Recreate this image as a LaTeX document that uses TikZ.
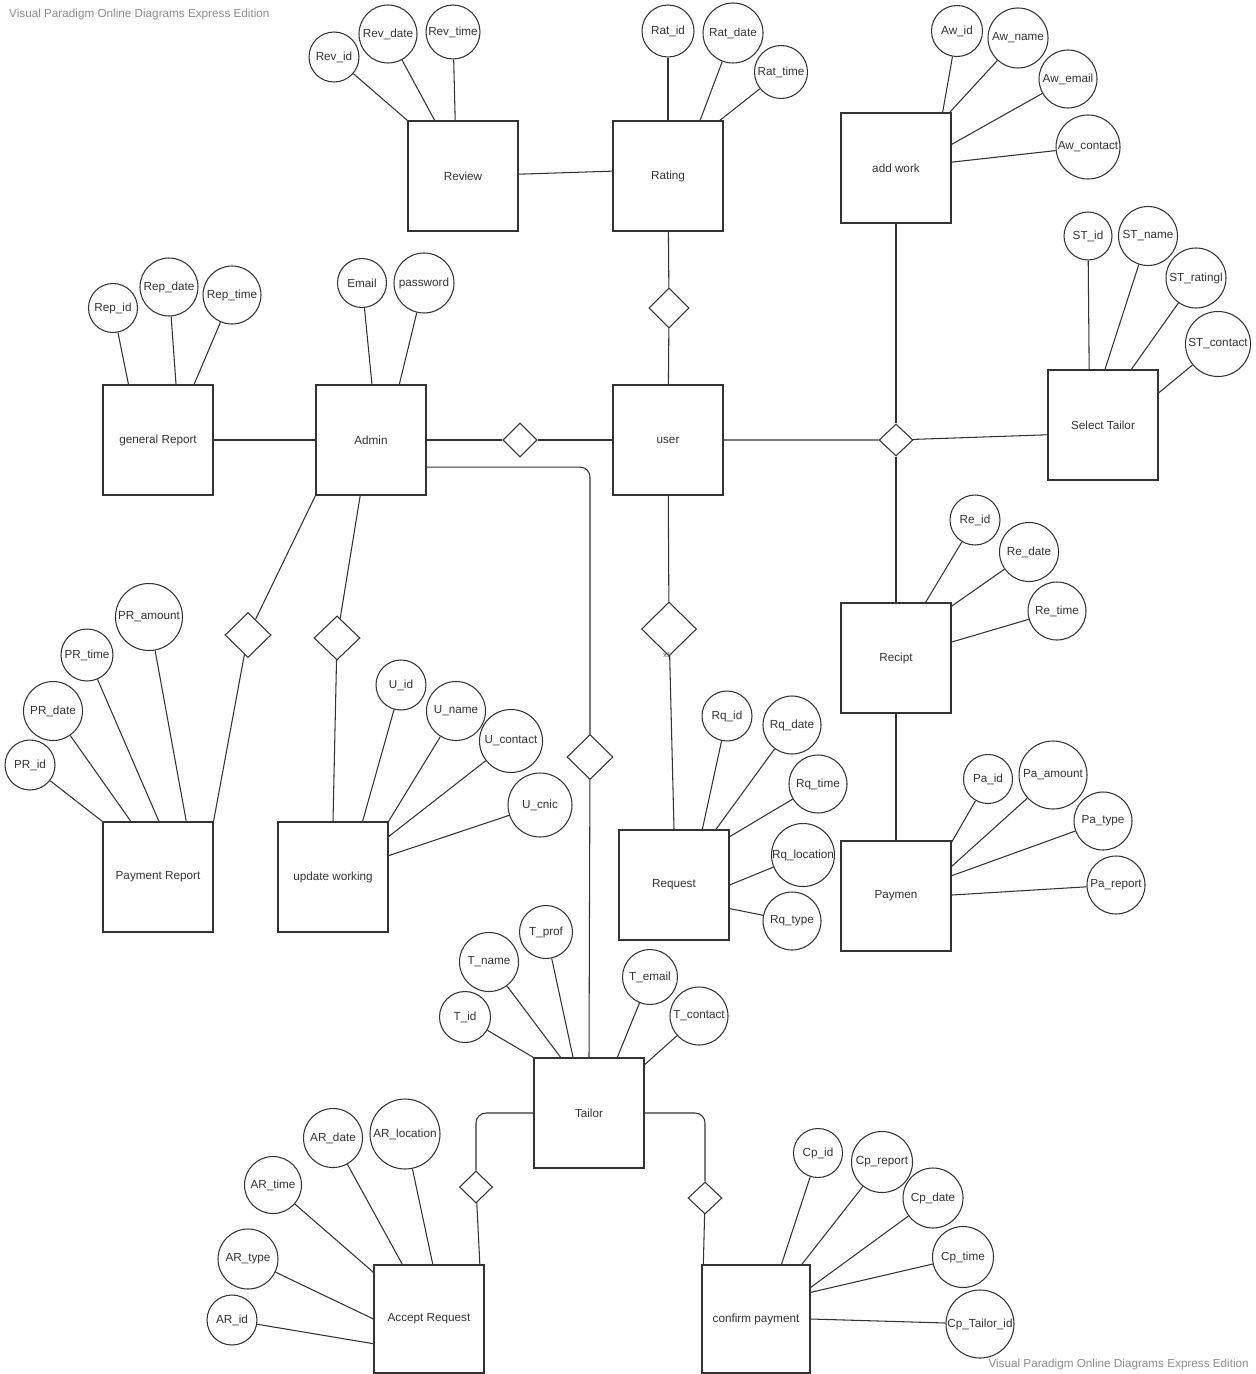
\documentclass[tikz,border=0pt]{standalone}
\usepackage{fontspec}
\setmainfont{Liberation Sans}
\usetikzlibrary{shapes.geometric}
\tikzset{
entity/.style={draw=black!80,line width=0.9pt,minimum width=33mm,minimum height=33mm,inner sep=0pt,font=\fontsize{10}{12}\selectfont,text=black!80},
attrib/.style={circle,draw=black!80,line width=0.9pt,inner sep=0pt,font=\fontsize{10}{12}\selectfont,text=black!80},
rel/.style={diamond,draw=black!80,line width=0.9pt,inner sep=0pt,minimum width=10.2mm,minimum height=10.2mm},
link/.style={black!80,line width=0.9pt},
elbow/.style={link,rounded corners=3mm},
mult/.style={font=\fontsize{6}{7}\selectfont,text=black!70,inner sep=0pt},
watermark/.style={font=\fontsize{10}{12}\selectfont,text=black!45,inner sep=0pt}
}
\begin{document}
\begin{tikzpicture}[x=0.3mm,y=-0.3mm]
\path[use as bounding box,fill=white] (0,0) rectangle (1255,1374);
\node[watermark,anchor=west] (wmtop) at (9,14) {Visual Paradigm Online Diagrams Express Edition};
\node[watermark,anchor=east] (wmbot) at (1249,1364) {Visual Paradigm Online Diagrams Express Edition};

\node[entity] (review) at (463,176) {Review};
\node[entity] (rating) at (668,176) {Rating};
\node[entity] (addwork) at (896,168) {add work};
\node[entity] (genrep) at (158,440) {general Report};
\node[entity] (admin) at (371,440) {Admin};
\node[entity] (user) at (668,440) {user};
\node[entity] (seltailor) at (1103,425) {Select Tailor};
\node[entity] (recipt) at (896,658) {Recipt};
\node[entity] (payrep) at (158,877) {Payment Report};
\node[entity] (updwork) at (333,877) {update working};
\node[entity] (request) at (674,885) {Request};
\node[entity] (paymen) at (896,896) {Paymen};
\node[entity] (tailor) at (589,1113) {Tailor};
\node[entity,minimum height=32.4mm] (accreq) at (429,1319) {Accept Request};
\node[entity,minimum width=32.4mm,minimum height=32.4mm] (confpay) at (756,1319) {confirm payment};

\node[rel] (adminuser) at (520,440) {};
\node[rel,minimum width=12mm,minimum height=12mm] (rateuser) at (669,308) {};
\node[rel,minimum width=16.5mm,minimum height=16.2mm] (userreq) at (669,629) {};
\node[mult] (xone) at (667,655) {x1};
\node[rel,minimum height=9.6mm] (userst) at (896,440) {};
\node[rel,minimum width=13.8mm,minimum height=13.5mm] (adminpr) at (248,635) {};
\node[rel,minimum width=13.8mm,minimum height=13.2mm] (adminuw) at (337,638) {};
\node[rel,minimum width=13.8mm,minimum height=13.5mm] (admintai) at (590,757) {};
\node[rel,minimum width=9.9mm,minimum height=9.6mm] (taiar) at (476,1187) {};
\node[rel,minimum height=9.6mm] (taicp) at (705,1198) {};

\node[attrib,minimum size=15mm] (revid) at (334,57) {Rev\_id};
\node[attrib,minimum size=17.4mm] (revdate) at (388,34) {Rev\_date};
\node[attrib,minimum size=16.2mm] (revtime) at (453,32) {Rev\_time};
\node[attrib,minimum size=15.6mm] (ratid) at (668,31) {Rat\_id};
\node[attrib,minimum size=18mm] (ratdate) at (733,33) {Rat\_date};
\node[attrib,minimum size=15.9mm] (rattime) at (781,72) {Rat\_time};
\node[attrib,minimum size=15.3mm] (awid) at (957,31) {Aw\_id};
\node[attrib,minimum size=18mm] (awname) at (1018,38) {Aw\_name};
\node[attrib,minimum size=17.4mm] (awemail) at (1068,79) {Aw\_email};
\node[attrib,minimum size=19.2mm] (awcontact) at (1088,147) {Aw\_contact};
\node[attrib,minimum size=14.4mm] (stid) at (1088,236) {ST\_id};
\node[attrib,minimum size=17.7mm] (stname) at (1148,236) {ST\_name};
\node[attrib,minimum size=18mm] (strating) at (1196,278) {ST\_ratingl};
\node[attrib,minimum size=19.5mm] (stcontact) at (1218,344) {ST\_contact};
\node[attrib,minimum size=14.7mm] (repid) at (113,308) {Rep\_id};
\node[attrib,minimum size=17.4mm] (repdate) at (169,287) {Rep\_date};
\node[attrib,minimum size=17.4mm] (reptime) at (232,295) {Rep\_time};
\node[attrib,minimum size=14.7mm] (email) at (362,283) {Email};
\node[attrib,minimum size=18mm] (password) at (424,283) {password};
\node[attrib,minimum size=15mm] (reid) at (975,520) {Re\_id};
\node[attrib,minimum size=17.7mm] (redate) at (1029,552) {Re\_date};
\node[attrib,minimum size=17.4mm] (retime) at (1057,611) {Re\_time};
\node[attrib,minimum size=14.7mm] (paid) at (988,779) {Pa\_id};
\node[attrib,minimum size=20.4mm] (paamount) at (1053,775) {Pa\_amount};
\node[attrib,minimum size=17.4mm] (patype) at (1103,821) {Pa\_type};
\node[attrib,minimum size=17.4mm] (pareport) at (1116,885) {Pa\_report};
\node[attrib,minimum size=15mm] (prid) at (30,765) {PR\_id};
\node[attrib,minimum size=17.7mm] (prdate) at (53,711) {PR\_date};
\node[attrib,minimum size=15.6mm] (prtime) at (87,655) {PR\_time};
\node[attrib,minimum size=20.1mm] (pramount) at (149,617) {PR\_amount};
\node[attrib,minimum size=15mm] (uid) at (401,685) {U\_id};
\node[attrib,minimum size=17.7mm] (uname) at (456,711) {U\_name};
\node[attrib,minimum size=18.9mm] (ucontact) at (511,741) {U\_contact};
\node[attrib,minimum size=19.2mm] (ucnic) at (540,805) {U\_cnic};
\node[attrib,minimum size=15mm] (rqid) at (727,716) {Rq\_id};
\node[attrib,minimum size=17.4mm] (rqdate) at (792,725) {Rq\_date};
\node[attrib,minimum size=17.4mm] (rqtime) at (818,784) {Rq\_time};
\node[attrib,minimum size=18.9mm] (rqloc) at (803,855) {Rq\_location};
\node[attrib,minimum size=17.4mm] (rqtype) at (792,921) {Rq\_type};
\node[attrib,minimum size=15.3mm] (tid) at (465,1017) {T\_id};
\node[attrib,minimum size=17.7mm] (tname) at (489,962) {T\_name};
\node[attrib,minimum size=15.9mm] (tprof) at (546,932) {T\_prof};
\node[attrib,minimum size=16.5mm] (temail) at (650,977) {T\_email};
\node[attrib,minimum size=17.4mm] (tcontact) at (699,1016) {T\_contact};
\node[attrib,minimum size=15mm] (arid) at (232,1320) {AR\_id};
\node[attrib,minimum size=18mm] (artype) at (248,1259) {AR\_type};
\node[attrib,minimum size=17.1mm] (artime) at (273,1185) {AR\_time};
\node[attrib,minimum size=17.7mm] (ardate) at (333,1138) {AR\_date};
\node[attrib,minimum size=21mm] (arloc) at (405,1134) {AR\_location};
\node[attrib,minimum size=14.7mm] (cpid) at (818,1153) {Cp\_id};
\node[attrib,minimum size=18.3mm] (cpreport) at (882,1162) {Cp\_report};
\node[attrib,minimum size=18mm] (cpdate) at (933,1198) {Cp\_date};
\node[attrib,minimum size=18.3mm] (cptime) at (963,1257) {Cp\_time};
\node[attrib,minimum size=20.4mm] (cptid) at (980,1324) {Cp\_Tailor\_id};

\draw[link] (revid) -- (review.north west);
\draw[link] (revdate) -- (review.117);
\draw[link] (revtime) -- (review.98);
\draw[link] (ratid) -- (rating.north);
\draw[link] (ratdate) -- (rating.60);
\draw[link] (rattime) -- (rating.47);
\draw[link] (awid) -- (addwork.50);
\draw[link] (awname) -- (addwork.46);
\draw[link] (awemail) -- (addwork.23);
\draw[link] (awcontact) -- (addwork.6);
\draw[link] (stid) -- (seltailor.104);
\draw[link] (stname) -- (seltailor.88);
\draw[link] (strating) -- (seltailor.63);
\draw[link] (stcontact) -- (seltailor.30);
\draw[link] (repid) -- (genrep.118);
\draw[link] (repdate) -- (genrep.72);
\draw[link] (reptime) -- (genrep.57);
\draw[link] (email) -- (admin.89);
\draw[link] (password) -- (admin.63);
\draw[link] (reid) -- (recipt.62);
\draw[link] (redate) -- (recipt.43);
\draw[link] (retime) -- (recipt.16);
\draw[link] (paid) -- (paymen.44);
\draw[link] (paamount) -- (paymen.28);
\draw[link] (patype) -- (paymen.20);
\draw[link] (pareport) -- (paymen.1);
\draw[link] (prid) -- (payrep.north west);
\draw[link] (prdate) -- (payrep.116);
\draw[link] (prtime) -- (payrep.89);
\draw[link] (pramount) -- (payrep.63);
\draw[link] (uid) -- (updwork.62);
\draw[link] (uname) -- (updwork.north east);
\draw[link] (ucontact) -- (updwork.36);
\draw[link] (ucnic) -- (updwork.21);
\draw[link] (rqid) -- (request.63);
\draw[link] (rqdate) -- (request.53);
\draw[link] (rqtime) -- (request.41);
\draw[link] (rqloc) -- (request.east);
\draw[link] (rqtype) -- (request.337);
\draw[link] (tid) -- (tailor.north west);
\draw[link] (tname) -- (tailor.117);
\draw[link] (tprof) -- (tailor.106);
\draw[link] (temail) -- (tailor.63);
\draw[link] (tcontact) -- (tailor.41);
\draw[link] (arid) -- (accreq.204);
\draw[link] (artype) -- (accreq.west);
\draw[link] (artime) -- (accreq.140);
\draw[link] (ardate) -- (accreq.116);
\draw[link] (arloc) -- (accreq.86);
\draw[link] (cpid) -- (confpay.65);
\draw[link] (cpreport) -- (confpay.50);
\draw[link] (cpdate) -- (confpay.30);
\draw[link] (cptime) -- (confpay.26);
\draw[link] (cptid) -- (confpay.east);

\draw[link] (review) -- (rating.175);
\draw[link] (genrep) -- (admin);
\draw[link] (admin) -- (adminuser) -- (user);
\draw[link] (rating) -- (rateuser) -- (user);
\draw[link] (user) -- (userreq);
\draw[link] (userreq) -- (request.north);
\draw[link] (user) -- (userst) -- (seltailor.190);
\draw[link] (addwork) -- (userst) -- (recipt);
\draw[link] (recipt) -- (paymen);
\draw[link] (admin.south west) -- (adminpr) -- (payrep.north east);
\draw[link] (admin.259) -- (adminuw) -- (updwork.north);
\draw[elbow] (admin.334) -| (admintai.north);
\draw[link] (admintai) -- (tailor.north);
\draw[elbow] (tailor.west) -| (taiar.north);
\draw[link] (taiar) -- (accreq.47);
\draw[elbow] (tailor.east) -| (taicp.north);
\draw[link] (taicp) -- (confpay.134);
\end{tikzpicture}
\end{document}
